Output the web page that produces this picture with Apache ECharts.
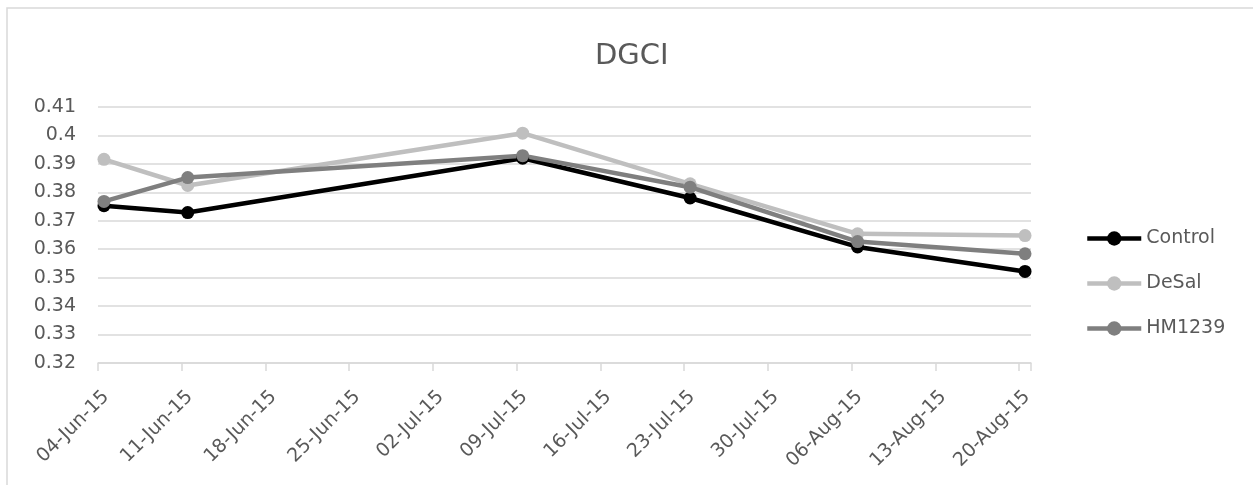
<!DOCTYPE html>
<html>
<head>
<meta charset="utf-8">
<script src="https://cdn.jsdelivr.net/npm/echarts@6/dist/echarts.min.js"></script>
<style>
html,body{margin:0;padding:0;background:#fff;}
#chart{width:1253px;height:485px;}
</style>
</head>
<body>
<div id="chart"></div>
<script>
// Measurement dates
var dates = ['2015-06-04', '2015-06-11', '2015-07-09', '2015-07-23', '2015-08-06', '2015-08-20'];
// Series values (DGCI)
var control = [0.3753, 0.3729, 0.3920, 0.3780, 0.3608, 0.3522];
var desal   = [0.3916, 0.3824, 0.4008, 0.3830, 0.3654, 0.3648];
var hm1239  = [0.3768, 0.3852, 0.3929, 0.3818, 0.3627, 0.3584];
// Axis tick labels
var xTickLabels = ['04-Jun-15', '11-Jun-15', '18-Jun-15', '25-Jun-15', '02-Jul-15', '09-Jul-15',
                   '16-Jul-15', '23-Jul-15', '30-Jul-15', '06-Aug-15', '13-Aug-15', '20-Aug-15'];
var yTickLabels = ['0.32', '0.33', '0.34', '0.35', '0.36', '0.37', '0.38', '0.39', '0.4', '0.41'];

var DAY = 86400000;
var start = Date.UTC(2015, 5, 4);
function dayIndex(s) {
  var p = s.split('-');
  return (Date.UTC(+p[0], +p[1] - 1, +p[2]) - start) / DAY;
}
function pairs(vals) {
  return dates.map(function (d, i) { return [dayIndex(d) + 0.5, vals[i]]; });
}

var FONT = 'DejaVu Sans';
var TXT = '#595959';
var GRID = '#d9d9d9';
var SPAN = dayIndex(dates[dates.length - 1]) + 1;

function series(name, vals, color) {
  return {
    name: name,
    type: 'line',
    xAxisIndex: 0,
    yAxisIndex: 0,
    data: pairs(vals),
    symbol: 'circle',
    symbolSize: 13,
    lineStyle: { color: color, width: 4.5 },
    itemStyle: { color: color },
    emphasis: { disabled: true },
    animation: false
  };
}

var chart = echarts.init(document.getElementById('chart'), null, { renderer: 'canvas' });
chart.setOption({
  animation: false,
  backgroundColor: '#fff',
  graphic: [{
    type: 'rect',
    shape: { x: 7, y: 8, width: 1260, height: 500 },
    style: { fill: null, stroke: GRID, lineWidth: 1.5 },
    silent: true
  }],
  title: {
    text: 'DGCI',
    left: 595,
    top: 42,
    padding: 0,
    textStyle: { fontFamily: FONT, fontSize: 29, fontWeight: 'normal', color: TXT }
  },
  legend: {
    orient: 'vertical',
    left: 1085,
    top: 228.5,
    padding: 0,
    itemWidth: 54,
    itemHeight: 18,
    itemGap: 25,
    lineStyle: { width: 4.5 },
    textStyle: { fontFamily: FONT, fontSize: 19, color: TXT, lineHeight: 20 },
    data: ['Control', 'DeSal', 'HM1239']
  },
  grid: [
    { left: 98, right: 222, top: 107, bottom: 122, containLabel: false },
    // label-only grid, offset slightly right like the reference's date labels
    { left: 106, right: 214, top: 107, bottom: 122, containLabel: false }
  ],
  xAxis: [{
    type: 'value',
    gridIndex: 0,
    min: 0,
    max: SPAN,
    interval: 7,
    splitLine: { show: false },
    axisLine: { show: true, lineStyle: { color: GRID, width: 1.5 } },
    axisTick: { show: true, length: 8, lineStyle: { color: GRID, width: 1.5 } },
    axisLabel: { show: false }
  }, {
    type: 'value',
    gridIndex: 1,
    min: 0,
    max: SPAN,
    interval: 7,
    splitLine: { show: false },
    axisLine: { show: false },
    axisTick: { show: false },
    axisLabel: {
      rotate: 45,
      margin: 31,
      fontFamily: FONT,
      fontSize: 19,
      color: TXT,
      showMinLabel: true,
      showMaxLabel: false,
      formatter: function (v) {
        var i = Math.round(v / 7);
        return (Math.abs(v - i * 7) < 1e-6) ? (xTickLabels[i] || '') : '';
      }
    }
  }],
  yAxis: [{
    type: 'value',
    gridIndex: 0,
    min: 0.32,
    max: 0.41,
    interval: 0.01,
    axisLine: { show: false },
    axisTick: { show: false },
    splitLine: { show: true, lineStyle: { color: GRID, width: 1.5 } },
    axisLabel: {
      margin: 22,
      fontFamily: FONT,
      fontSize: 19,
      color: TXT,
      formatter: function (v) {
        var i = Math.round((v - 0.32) / 0.01);
        return yTickLabels[i] || '';
      }
    }
  }, {
    type: 'value',
    gridIndex: 1,
    min: 0.32,
    max: 0.41,
    show: false
  }],
  series: [
    series('Control', control, '#000000'),
    series('DeSal', desal, '#bfbfbf'),
    series('HM1239', hm1239, '#7f7f7f')
  ]
});
</script>
</body>
</html>
